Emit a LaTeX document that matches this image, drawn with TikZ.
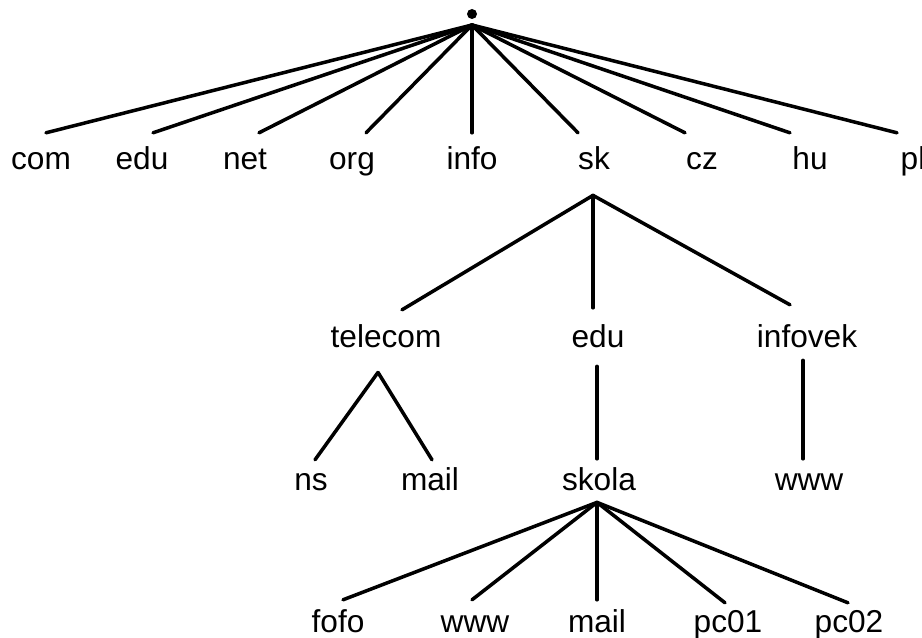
\documentclass[tikz,border=0pt]{standalone}
\usepackage{fontspec}
\setmainfont{Liberation Sans}
\usetikzlibrary{calc}

\begin{document}
\begin{tikzpicture}[
    x=0.02cm, y=-0.02cm,
    edge/.style={line width=2pt, line cap=round},
    dname/.style={
        font=\fontsize{18}{20}\selectfont,
        inner sep=0pt,
        text height=13pt,
        text depth=4pt,
        anchor=base
    },
    rootdot/.style={circle, fill, inner sep=0pt, minimum size=0.2cm}
]
\clip (0,0) rectangle (922,638);

% ===== koren =====
\node[rootdot] (root) at (472,14) {};

% ===== domeny prvej urovne =====
\foreach \nm/\lbl/\cx/\dx in {
    com/com/41/5, tedu/edu/142/11, net/net/245/14, org/org/352/14,
    info/info/472/0, sk/sk/594/-16, cz/cz/702/-17, hu/hu/810/-20, pl/pl/913/-16
}{
    \node[dname] (\nm) at (\cx,170) {\lbl};
    \draw[edge] ($(root)+(0,11)$) -- ($(\nm.north)+(\dx,-14)$);
}

% ===== pod sk =====
\node[dname] (telecom) at (386,347) {telecom};
\node[dname] (skedu) at (598,347) {edu};
\node[dname] (infovek) at (807,347) {infovek};
\foreach \nm/\dx/\dy in {telecom/16/-14, skedu/-5/-16, infovek/-17/-19}
    \draw[edge] ($(sk.south)+(-1,18)$) -- ($(\nm.north)+(\dx,\dy)$);

% ===== pod telecom =====
\node[dname] (ns) at (311,490) {ns};
\node[dname] (tmail) at (430,490) {mail};
\foreach \nm/\dx in {ns/4, tmail/2}
    \draw[edge] ($(telecom.south)+(-8,18)$) -- ($(\nm.north)+(\dx,-7)$);

% ===== pod edu a infovek =====
\node[dname] (skola) at (599,490) {skola};
\draw[edge] ($(skedu.south)+(-1,12)$) -- ($(skola.north)+(-2,-8)$);
\node[dname] (iwww) at (809,490) {www};
\draw[edge] ($(infovek.south)+(-4,6)$) -- ($(iwww.north)+(-6,-8)$);

% ===== pod skola =====
\foreach \nm/\lbl/\cx/\dx/\dy in {
    fofo/fofo/338/5/-9, swww/www/475/-3/-9, smail/mail/597/0/-9,
    pc01/pc01/728/-3/-6, pc02/pc02/849/-1/-6
}{
    \node[dname] (\nm) at (\cx,632) {\lbl};
    \draw[edge] ($(skola.south)+(-2,5)$) -- ($(\nm.north)+(\dx,\dy)$);
}

\end{tikzpicture}
\end{document}
